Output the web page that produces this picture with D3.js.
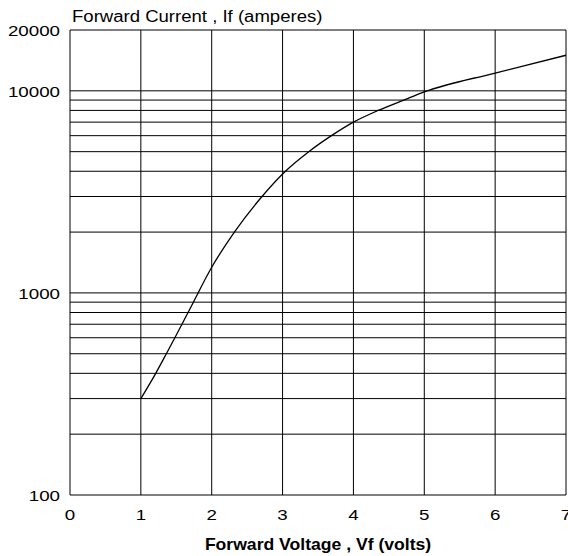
<!DOCTYPE html>
<html>
<head>
<meta charset="utf-8">
<script src="https://cdn.jsdelivr.net/npm/d3@7"></script>
<style>
  body { margin: 0; background: #fff; }
  svg { display: block; }
  text { font-family: "Liberation Sans", Arial, sans-serif; fill: #000; }
</style>
</head>
<body>
<div id="chart"></div>
<script>
// Forward voltage (V) and forward current (A)
const voltage = [1.0, 1.21, 1.36, 1.48, 1.58, 1.69, 2.0, 2.32, 2.71, 3.04, 3.37, 3.69, 4.0, 4.35, 4.71, 5.0, 6.0, 7.0];
const current = [300, 400, 500, 600, 700, 830, 1340, 2000, 3000, 4000, 5000, 6000, 7000, 8000, 9000, 9880, 12250, 15000];

const xTicks = [0, 1, 2, 3, 4, 5, 6, 7];
const yLabels = [100, 1000, 10000, 20000];
const yGrid = [100, 200, 300, 400, 500, 600, 700, 800, 900,
               1000, 2000, 3000, 4000, 5000, 6000, 7000, 8000, 9000,
               10000, 20000];

const width = 568, height = 556;
const margin = { top: 30, right: 2, bottom: 61, left: 70 };

const svg = d3.select("#chart")
    .append("svg")
    .attr("width", width)
    .attr("height", height);

const x = d3.scaleLinear()
    .domain([0, 7])
    .range([margin.left, width - margin.right]);

const y = d3.scaleLog()
    .domain([100, 20000])
    .range([height - margin.bottom, margin.top]);

// horizontal grid
svg.append("g")
    .selectAll("line")
    .data(yGrid)
    .enter()
    .append("line")
    .attr("x1", x(0))
    .attr("x2", x(7))
    .attr("y1", d => y(d))
    .attr("y2", d => y(d))
    .attr("stroke", "#000")
    .attr("stroke-width", 1);

// vertical grid
svg.append("g")
    .selectAll("line")
    .data(xTicks)
    .enter()
    .append("line")
    .attr("x1", d => x(d))
    .attr("x2", d => x(d))
    .attr("y1", y(100))
    .attr("y2", y(20000))
    .attr("stroke", "#000")
    .attr("stroke-width", 1);

// the original lettering is a little wider than Arial, so stretch it
svg.append("g")
    .selectAll("text")
    .data(xTicks)
    .enter()
    .append("text")
    .attr("transform", d => `translate(${x(d)},${y(100) + 25}) scale(1.25,1)`)
    .attr("text-anchor", "middle")
    .attr("font-size", "15px")
    .text(d => d);

svg.append("g")
    .selectAll("text")
    .data(yLabels)
    .enter()
    .append("text")
    .attr("transform", d => `translate(${x(0) - 10},${y(d) + 6}) scale(1.25,1)`)
    .attr("text-anchor", "end")
    .attr("font-size", "15px")
    .text(d => d);

// titles
svg.append("text")
    .attr("transform", "translate(72,22) scale(1.16,1)")
    .attr("font-size", "16px")
    .text("Forward Current , If (amperes)");

svg.append("text")
    .attr("transform", "translate(318,550) scale(1.1,1)")
    .attr("text-anchor", "middle")
    .attr("font-size", "16px")
    .attr("font-weight", "bold")
    .text("Forward Voltage , Vf (volts)");

// curve
const line = d3.line()
    .x(d => x(d[0]))
    .y(d => y(d[1]))
    .curve(d3.curveMonotoneX);

svg.append("path")
    .datum(voltage.map((v, i) => [v, current[i]]))
    .attr("fill", "none")
    .attr("stroke", "#000")
    .attr("stroke-width", 1.3)
    .attr("d", line);
</script>
</body>
</html>
